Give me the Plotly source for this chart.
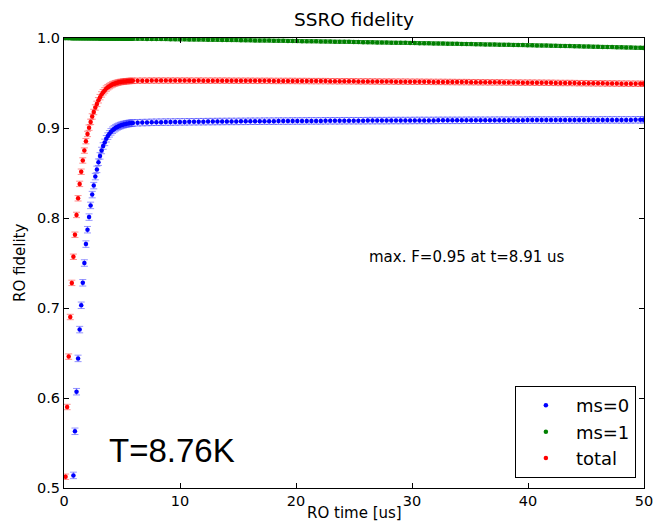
import plotly.graph_objects as go

# RO time [us]
ro_time = [
    0.135, 0.27, 0.405, 0.54, 0.675, 0.81, 0.945, 1.08, 1.215, 1.35,
    1.485, 1.62, 1.755, 1.89, 2.025, 2.16, 2.295, 2.43, 2.565, 2.7,
    2.835, 2.97, 3.105, 3.24, 3.375, 3.51, 3.645, 3.78, 3.915, 4.05,
    4.185, 4.32, 4.455, 4.59, 4.725, 4.86, 4.995, 5.13, 5.265, 5.4,
    5.535, 5.67, 5.805, 5.94,
    6.345, 6.75, 7.155, 7.56, 7.965, 8.37, 8.775, 9.18, 9.585, 9.99,
    10.395, 10.8, 11.205, 11.61, 12.015, 12.42, 12.825, 13.23, 13.635, 14.04,
    14.445, 14.85, 15.255, 15.66, 16.065, 16.47, 16.875, 17.28, 17.685, 18.09,
    18.495, 18.9, 19.305, 19.71, 20.115, 20.52, 20.925, 21.33, 21.735, 22.14,
    22.545, 22.95, 23.355, 23.76, 24.165, 24.57, 24.975, 25.38, 25.785, 26.19,
    26.595, 27.0, 27.405, 27.81, 28.215, 28.62, 29.025, 29.43, 29.835, 30.24,
    30.645, 31.05, 31.455, 31.86, 32.265, 32.67, 33.075, 33.48, 33.885, 34.29,
    34.695, 35.1, 35.505, 35.91, 36.315, 36.72, 37.125, 37.53, 37.935, 38.34,
    38.745, 39.15, 39.555, 39.96, 40.365, 40.77, 41.175, 41.58, 41.985, 42.39,
    42.795, 43.2, 43.605, 44.01, 44.415, 44.82, 45.225, 45.63, 46.035, 46.44,
    46.845, 47.25, 47.655, 48.06, 48.465, 48.87, 49.275, 49.68, 49.95,
]

fid_ms0 = [
    0.025, 0.180, 0.292, 0.380, 0.456, 0.514, 0.563, 0.607, 0.644, 0.676,
    0.703, 0.728, 0.750, 0.771, 0.787, 0.801, 0.814, 0.826, 0.836, 0.846,
    0.854, 0.862, 0.869, 0.875, 0.880, 0.884, 0.888, 0.891, 0.8935, 0.8957,
    0.8975, 0.8990, 0.9002, 0.9012, 0.9020, 0.9027, 0.9033, 0.9038, 0.9042, 0.9046,
    0.9049, 0.9052, 0.9054, 0.9056,
    0.9058, 0.9060, 0.9061, 0.9063, 0.9064, 0.9065, 0.9066, 0.9066, 0.9067, 0.9068,
    0.9068, 0.9069, 0.9069, 0.9070, 0.9070, 0.9071, 0.9071, 0.9072, 0.9072, 0.9073,
    0.9073, 0.9073, 0.9074, 0.9074, 0.9075, 0.9075, 0.9075, 0.9076, 0.9076, 0.9076,
    0.9077, 0.9077, 0.9077, 0.9078, 0.9078, 0.9078, 0.9079, 0.9079, 0.9079, 0.9079,
    0.9080, 0.9080, 0.9080, 0.9080, 0.9081, 0.9081, 0.9081, 0.9081, 0.9081, 0.9082,
    0.9082, 0.9082, 0.9082, 0.9082, 0.9083, 0.9083, 0.9083, 0.9083, 0.9083, 0.9084,
    0.9084, 0.9084, 0.9084, 0.9084, 0.9085, 0.9085, 0.9085, 0.9085, 0.9085, 0.9085,
    0.9086, 0.9086, 0.9086, 0.9086, 0.9086, 0.9086, 0.9087, 0.9087, 0.9087, 0.9087,
    0.9087, 0.9087, 0.9087, 0.9088, 0.9088, 0.9088, 0.9088, 0.9088, 0.9088, 0.9088,
    0.9088, 0.9089, 0.9089, 0.9089, 0.9089, 0.9089, 0.9089, 0.9089, 0.9089, 0.9090,
    0.9090, 0.9090, 0.9090, 0.9090, 0.9090, 0.9090, 0.9091, 0.9091, 0.9091,
]

fid_ms1 = [
    0.9999, 0.9999, 0.9999, 0.9999, 0.9998, 0.9998, 0.9998, 0.9998, 0.9998, 0.9998,
    0.9997, 0.9997, 0.9997, 0.9997, 0.9997, 0.9997, 0.9996, 0.9996, 0.9996, 0.9996,
    0.9996, 0.9996, 0.9995, 0.9995, 0.9995, 0.9995, 0.9995, 0.9995, 0.9995, 0.9994,
    0.9994, 0.9994, 0.9994, 0.9994, 0.9994, 0.9994, 0.9993, 0.9993, 0.9993, 0.9993,
    0.9993, 0.9993, 0.9993, 0.9992,
    0.9992, 0.9991, 0.9990, 0.9990, 0.9989, 0.9989, 0.9988, 0.9987, 0.9986, 0.9985,
    0.9985, 0.9984, 0.9983, 0.9983, 0.9982, 0.9981, 0.9980, 0.9980, 0.9979, 0.9978,
    0.9977, 0.9977, 0.9976, 0.9975, 0.9974, 0.9973, 0.9972, 0.9972, 0.9971, 0.9970,
    0.9969, 0.9969, 0.9968, 0.9967, 0.9966, 0.9965, 0.9964, 0.9963, 0.9963, 0.9962,
    0.9961, 0.9960, 0.9959, 0.9958, 0.9958, 0.9957, 0.9956, 0.9955, 0.9954, 0.9953,
    0.9952, 0.9951, 0.9950, 0.9949, 0.9948, 0.9947, 0.9946, 0.9946, 0.9945, 0.9944,
    0.9943, 0.9942, 0.9941, 0.9940, 0.9939, 0.9938, 0.9937, 0.9936, 0.9935, 0.9934,
    0.9933, 0.9932, 0.9931, 0.9930, 0.9929, 0.9928, 0.9927, 0.9926, 0.9925, 0.9924,
    0.9923, 0.9922, 0.9921, 0.9920, 0.9919, 0.9918, 0.9917, 0.9916, 0.9915, 0.9913,
    0.9912, 0.9911, 0.9910, 0.9909, 0.9907, 0.9906, 0.9905, 0.9904, 0.9902, 0.9901,
    0.9900, 0.9899, 0.9897, 0.9896, 0.9895, 0.9894, 0.9892, 0.9891, 0.9890,
]

fid_total = [
    0.5125, 0.5900, 0.6460, 0.6900, 0.7279, 0.7569, 0.7814, 0.8034, 0.8219, 0.8379,
    0.8514, 0.8639, 0.8749, 0.8854, 0.8934, 0.9004, 0.9068, 0.9128, 0.9178, 0.9228,
    0.9268, 0.9308, 0.9343, 0.9373, 0.9398, 0.9418, 0.9438, 0.9453, 0.9465, 0.9476,
    0.9485, 0.9492, 0.9498, 0.9503, 0.9507, 0.9511, 0.9513, 0.9516, 0.9518, 0.9520,
    0.9521, 0.9523, 0.9524, 0.9524,
    0.9525, 0.9526, 0.9526, 0.9527, 0.9527, 0.9527, 0.9527, 0.9527, 0.9527, 0.9527,
    0.9527, 0.9527, 0.9526, 0.9527, 0.9526, 0.9526, 0.9526, 0.9526, 0.9526, 0.9526,
    0.9525, 0.9525, 0.9525, 0.9525, 0.9525, 0.9524, 0.9524, 0.9524, 0.9524, 0.9523,
    0.9523, 0.9523, 0.9523, 0.9523, 0.9522, 0.9522, 0.9522, 0.9521, 0.9521, 0.9521,
    0.9521, 0.9520, 0.9520, 0.9519, 0.9520, 0.9519, 0.9519, 0.9518, 0.9518, 0.9518,
    0.9517, 0.9517, 0.9516, 0.9516, 0.9516, 0.9515, 0.9515, 0.9515, 0.9514, 0.9514,
    0.9514, 0.9513, 0.9513, 0.9512, 0.9512, 0.9512, 0.9511, 0.9511, 0.9510, 0.9510,
    0.9510, 0.9509, 0.9509, 0.9508, 0.9508, 0.9507, 0.9507, 0.9507, 0.9506, 0.9506,
    0.9505, 0.9505, 0.9504, 0.9504, 0.9504, 0.9503, 0.9503, 0.9502, 0.9502, 0.9501,
    0.9500, 0.9500, 0.9500, 0.9499, 0.9498, 0.9498, 0.9497, 0.9497, 0.9496, 0.9496,
    0.9495, 0.9495, 0.9494, 0.9493, 0.9493, 0.9492, 0.9492, 0.9491, 0.9491,
]

series_names = ["ms=0", "ms=1", "total"]
series_err = [0.0036, 0.0017, 0.0030]
x_ticks = [0, 10, 20, 30, 40, 50]
y_ticks = [0.5, 0.6, 0.7, 0.8, 0.9, 1.0]

colors = ["#0000ff", "#008000", "#ff0000"]
err_colors = ["rgba(60,60,255,0.55)", "rgba(0,128,0,0.55)", "rgba(255,50,50,0.55)"]

FONT = "DejaVu Sans"
fig = go.Figure()
for name, ys, err, c, ec in zip(series_names, [fid_ms0, fid_ms1, fid_total],
                                 series_err, colors, err_colors):
    fig.add_trace(go.Scatter(
        x=ro_time, y=ys, name=name, mode="markers",
        marker=dict(color=c, size=4.5, line=dict(width=0)),
        error_y=dict(type="constant", value=err, color=ec, thickness=1, width=3.5),
    ))

axis_common = dict(
    showgrid=False, zeroline=False, showline=True, linecolor="black", linewidth=1,
    mirror="ticks", ticks="inside", ticklen=5, tickcolor="black", automargin=False,
    ticklabeloverflow="allow",
    tickfont=dict(family=FONT, size=14.5, color="black"),
)
fig.update_xaxes(range=[0, 50], tickvals=x_ticks, ticktext=[str(v) for v in x_ticks],
                 **axis_common)
fig.update_yaxes(range=[0.5, 1.0], tickvals=y_ticks, ticktext=[f"{v:.1f}" for v in y_ticks],
                 **axis_common)

# titles as annotations for exact placement
fig.add_annotation(x=0.5, y=1.04, xref="paper", yref="paper", text="SSRO fidelity",
                   showarrow=False, xanchor="center", yanchor="middle",
                   font=dict(family=FONT, size=18.5, color="black"))
fig.add_annotation(x=0.5, y=-0.056, xref="paper", yref="paper", text="RO time [us]",
                   showarrow=False, xanchor="center", yanchor="middle",
                   font=dict(family=FONT, size=15, color="black"))
fig.add_annotation(x=-0.076, y=0.5, xref="paper", yref="paper", text="RO fidelity",
                   showarrow=False, xanchor="center", yanchor="middle", textangle=-90,
                   font=dict(family=FONT, size=15, color="black"))

fig.add_annotation(x=26.1, y=0.757, xref="x", yref="y", text="max. F=0.95 at t=8.91 us",
                   showarrow=False, xanchor="left", yanchor="middle",
                   font=dict(family=FONT, size=15, color="black"))
fig.add_annotation(x=0.074, y=0.084, xref="paper", yref="paper", text="T=8.76K",
                   showarrow=False, xanchor="left", yanchor="middle",
                   font=dict(family="Liberation Sans", size=33, color="black"))

fig.update_layout(
    width=653, height=524,
    margin=dict(l=64, r=9, t=38, b=36),
    paper_bgcolor="white", plot_bgcolor="white",
    legend=dict(x=0.986, y=0.022, xanchor="right", yanchor="bottom",
                bordercolor="black", borderwidth=1, bgcolor="white",
                font=dict(family=FONT, size=18, color="black"),
                tracegroupgap=0, itemwidth=50),
    showlegend=True,
)

# remove the default 8px page margin so the figure sits at the window's top-left corner
fig.write_html("out.html",
               config={"displayModeBar": False},
               post_script="document.body.style.margin='0px';document.body.style.overflow='hidden';")
